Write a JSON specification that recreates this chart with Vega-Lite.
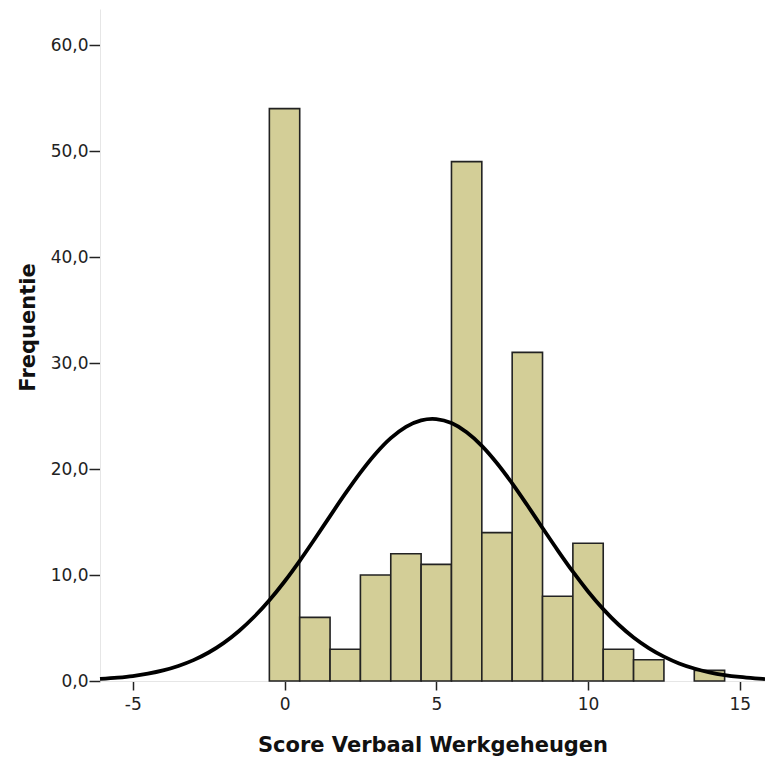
{
  "$schema": "https://vega.github.io/schema/vega-lite/v6.json",
  "width": 665,
  "height": 672,
  "autosize": {"type": "none"},
  "padding": {"left": 100, "top": 9, "right": 0, "bottom": 79},
  "background": "white",
  "config": {
    "view": {"stroke": null},
    "axis": {
      "labelFont": "DejaVu Sans",
      "labelFontSize": 17,
      "labelColor": "#222222",
      "titleFont": "DejaVu Sans",
      "titleFontSize": 21,
      "titleFontWeight": "bold",
      "titleColor": "#111111",
      "domainColor": "#e6e6e6",
      "domainWidth": 1,
      "tickColor": "#222222",
      "tickWidth": 1.5,
      "grid": false
    }
  },
  "datasets": {
    "bars": [
      {"start": -0.5, "end": 0.5, "count": 54},
      {"start": 0.5, "end": 1.5, "count": 6},
      {"start": 1.5, "end": 2.5, "count": 3},
      {"start": 2.5, "end": 3.5, "count": 10},
      {"start": 3.5, "end": 4.5, "count": 12},
      {"start": 4.5, "end": 5.5, "count": 11},
      {"start": 5.5, "end": 6.5, "count": 49},
      {"start": 6.5, "end": 7.5, "count": 14},
      {"start": 7.5, "end": 8.5, "count": 31},
      {"start": 8.5, "end": 9.5, "count": 8},
      {"start": 9.5, "end": 10.5, "count": 13},
      {"start": 10.5, "end": 11.5, "count": 3},
      {"start": 11.5, "end": 12.5, "count": 2},
      {"start": 13.5, "end": 14.5, "count": 1}
    ],
    "curve": [
      {"x": -6.08, "y": 0.19},
      {"x": -5.5, "y": 0.31},
      {"x": -5, "y": 0.46},
      {"x": -4.5, "y": 0.69},
      {"x": -4, "y": 1.0},
      {"x": -3.5, "y": 1.42},
      {"x": -3, "y": 1.97},
      {"x": -2.5, "y": 2.69},
      {"x": -2, "y": 3.6},
      {"x": -1.5, "y": 4.72},
      {"x": -1, "y": 6.06},
      {"x": -0.5, "y": 7.62},
      {"x": 0, "y": 9.39},
      {"x": 0.5, "y": 11.34},
      {"x": 1, "y": 13.42},
      {"x": 1.5, "y": 15.56},
      {"x": 2, "y": 17.67},
      {"x": 2.5, "y": 19.66},
      {"x": 3, "y": 21.44},
      {"x": 3.5, "y": 22.91},
      {"x": 4, "y": 23.98},
      {"x": 4.5, "y": 24.59},
      {"x": 4.87, "y": 24.73},
      {"x": 5, "y": 24.71},
      {"x": 5.5, "y": 24.33},
      {"x": 6, "y": 23.47},
      {"x": 6.5, "y": 22.19},
      {"x": 7, "y": 20.55},
      {"x": 7.5, "y": 18.65},
      {"x": 8, "y": 16.58},
      {"x": 8.5, "y": 14.44},
      {"x": 9, "y": 12.33},
      {"x": 9.5, "y": 10.31},
      {"x": 10, "y": 8.45},
      {"x": 10.5, "y": 6.78},
      {"x": 11, "y": 5.33},
      {"x": 11.5, "y": 4.11},
      {"x": 12, "y": 3.11},
      {"x": 12.5, "y": 2.3},
      {"x": 13, "y": 1.66},
      {"x": 13.5, "y": 1.18},
      {"x": 14, "y": 0.82},
      {"x": 14.5, "y": 0.56},
      {"x": 15, "y": 0.38},
      {"x": 15.5, "y": 0.25},
      {"x": 15.83, "y": 0.18}
    ]
  },
  "layer": [
    {
      "data": {"name": "bars"},
      "mark": {"type": "rect", "fill": "#d3ce97", "stroke": "#222222", "strokeWidth": 1.6},
      "encoding": {
        "x": {
          "field": "start",
          "type": "quantitative",
          "scale": {"domain": [-6.08, 15.83], "nice": false, "zero": false},
          "axis": {
            "title": "Score Verbaal Werkgeheugen",
            "values": [-5, 0, 5, 10, 15],
            "labelExpr": "'' + datum.value",
            "tickSize": 9,
            "labelPadding": 6,
            "titlePadding": 22
          }
        },
        "x2": {"field": "end"},
        "y": {
          "field": "count",
          "type": "quantitative",
          "scale": {"domain": [0, 63.4], "nice": false},
          "axis": {
            "title": "Frequentie",
            "values": [0, 10, 20, 30, 40, 50, 60],
            "labelExpr": "replace(format(datum.value, '.1f'), '.', ',')",
            "tickSize": 11,
            "labelPadding": 1,
            "titlePadding": 12,
            "titleY": 318
          }
        },
        "y2": {"datum": 0}
      }
    },
    {
      "data": {"name": "curve"},
      "mark": {"type": "line", "color": "#000000", "strokeWidth": 3.8, "interpolate": "monotone"},
      "encoding": {
        "x": {"field": "x", "type": "quantitative"},
        "y": {"field": "y", "type": "quantitative"}
      }
    }
  ]
}
